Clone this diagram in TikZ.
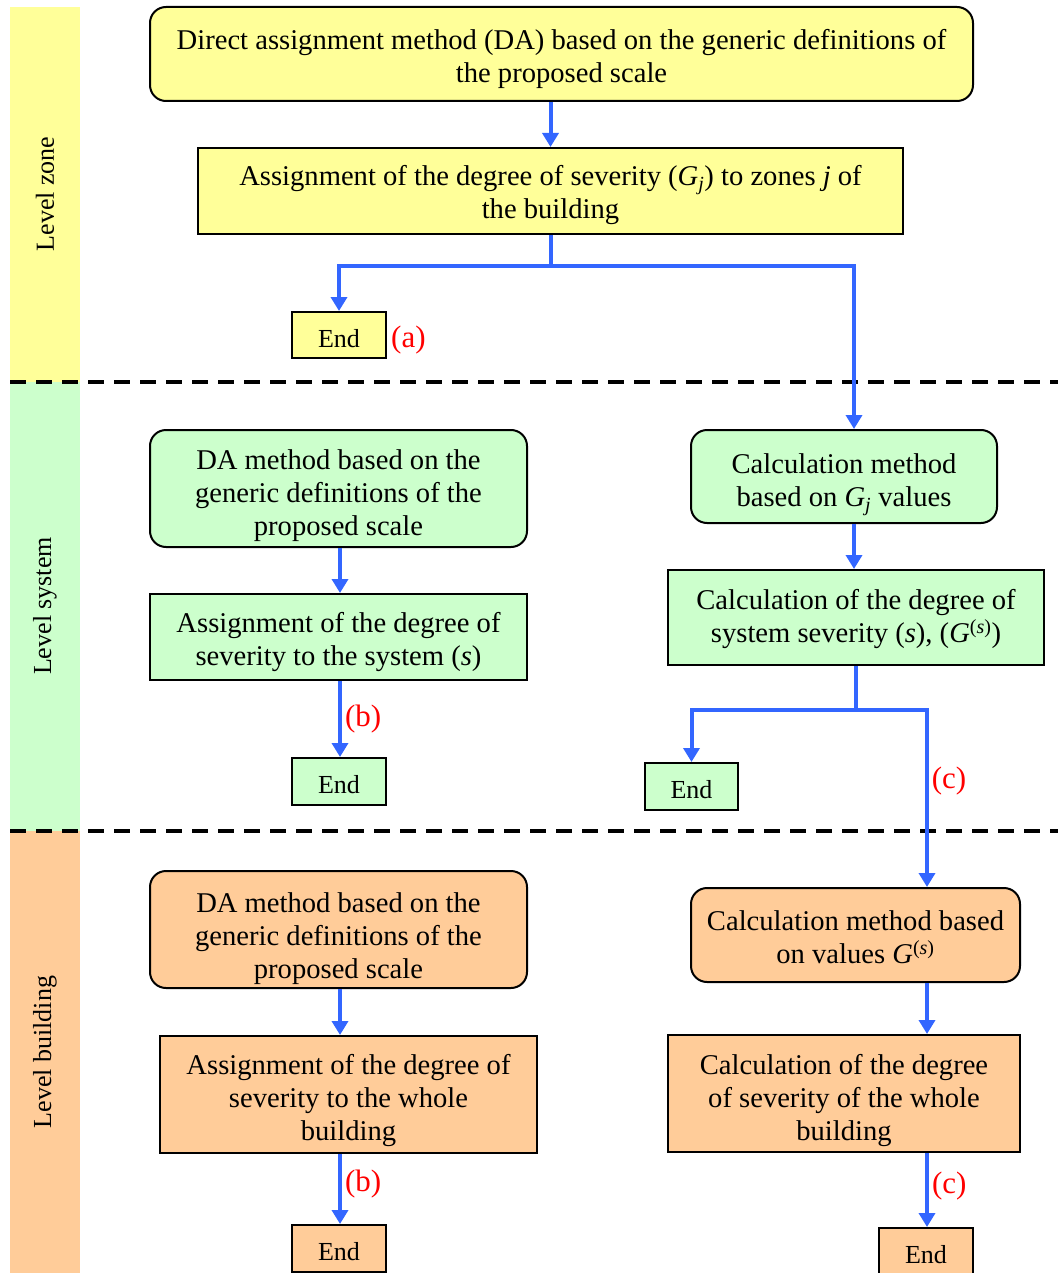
\documentclass[tikz,border=0pt]{standalone}
\usepackage{fontspec}
\setmainfont{Liberation Serif}
\usetikzlibrary{arrows.meta,calc}
\definecolor{cyel}{HTML}{FFFF99}
\definecolor{cgrn}{HTML}{CCFFCC}
\definecolor{corg}{HTML}{FFCC99}
\definecolor{cblue}{HTML}{3366FF}
\definecolor{cred}{HTML}{FF0000}
\begin{document}
\begin{tikzpicture}[x=1pt,y=-1pt,
  every node/.style={font=\fontsize{28.6}{33}\selectfont, inner sep=0pt, align=center},
  rbox/.style={draw=black, line width=2pt, rounded corners=16pt},
  sbox/.style={draw=black, line width=2pt},
  endbox/.style={draw=black, line width=2pt},
  tx/.style 2 args={label={[yshift=-#1pt]center:{#2}}},
  etx/.style={label={[yshift=-3.5pt, font=\fontsize{26}{30}\selectfont]center:End}},
  side/.style={rotate=90, font=\fontsize{26}{30}\selectfont},
  arr/.style={draw=cblue, line width=4pt, -{Triangle[length=14pt,width=16pt]}},
  lnk/.style={draw=cblue, line width=4pt},
  lab/.style={text=cred, font=\fontsize{31}{34}\selectfont},
  sep/.style={line width=4pt, dash pattern=on 16pt off 10pt}]
\useasboundingbox (0,0) rectangle (1058,1273);
% side bars
\fill[cyel] (10,7) rectangle (80,382);
\fill[cgrn] (10,382) rectangle (80,831);
\fill[corg] (10,831) rectangle (80,1273);
\node[side] (lz) at (45,194) {Level zone};
\node[side] (ls) at (45,606) {Level system};
\node[side] (lb) at (45,1052) {Level building};
% separators
\draw[sep] (10,382) -- (1058,382);
\draw[sep] (10,831) -- (1058,831);
% zone level
\node[rbox, fill=cyel, minimum width=823pt, minimum height=94pt,
  tx={5}{Direct assignment method (DA) based on the generic definitions of\\ the proposed scale}] (top) at (561.5,54) {};
\node[sbox, fill=cyel, minimum width=705pt, minimum height=86pt,
  tx={4}{Assignment of the degree of severity (\textit{G}\textsubscript{\textit{j}}) to zones \textit{j} of\\ the building}] (assign) at (550.5,191) {};
\node[endbox, fill=cyel, minimum width=94pt, minimum height=46pt, etx] (endA) at (339,335) {};
\node[lab, anchor=west] (la) at (391,340) {(a)};
% system level
\node[rbox, fill=cgrn, minimum width=377pt, minimum height=117pt,
  tx={7}{DA method based on the\\ generic definitions of the\\ proposed scale}] (da2) at (338.5,488.5) {};
\node[sbox, fill=cgrn, minimum width=377pt, minimum height=86pt,
  tx={5}{Assignment of the degree of\\ severity to the system (\textit{s})}] (as2) at (338.5,637) {};
\node[endbox, fill=cgrn, minimum width=94pt, minimum height=47pt, etx] (endB1) at (339,781.5) {};
\node[rbox, fill=cgrn, minimum width=306pt, minimum height=93pt,
  tx={8}{Calculation method\\ based on \textit{G}\textsubscript{\textit{j}} values}] (calc1) at (844,476.5) {};
\node[sbox, fill=cgrn, minimum width=376pt, minimum height=95pt,
  tx={1.5}{Calculation of the degree of\\ system severity (\textit{s}), (\textit{G}\textsuperscript{(\textit{s})})}] (calc2) at (856,617.5) {};
\node[endbox, fill=cgrn, minimum width=93pt, minimum height=47pt, etx] (endC1) at (691.5,786.5) {};
% building level
\node[rbox, fill=corg, minimum width=377pt, minimum height=117pt,
  tx={9}{DA method based on the\\ generic definitions of the\\ proposed scale}] (da3) at (338.5,929.5) {};
\node[sbox, fill=corg, minimum width=377pt, minimum height=117pt,
  tx={6}{Assignment of the degree of\\ severity to the whole\\ building}] (as3) at (348.5,1094.5) {};
\node[endbox, fill=corg, minimum width=94pt, minimum height=47pt, etx] (endB2) at (339,1248.5) {};
\node[rbox, fill=corg, minimum width=329pt, minimum height=94pt,
  tx={2}{Calculation method based\\ on values \textit{G}\textsuperscript{(\textit{s})}}] (calc3) at (855.5,935) {};
\node[sbox, fill=corg, minimum width=352pt, minimum height=117pt,
  tx={7}{Calculation of the degree\\ of severity of the whole\\ building}] (calc4) at (844,1093.5) {};
\node[endbox, fill=corg, minimum width=94pt, minimum height=47pt, etx] (endC2) at (926,1251.5) {};
% helper coordinates
\coordinate (j1) at ($(assign.south)+(0,31)$);
\coordinate (x1) at (854,0);
\coordinate (x0) at (340,0);
\coordinate (j2) at (856,710);
\coordinate (x2) at (927,0);
% connectors
\draw[arr] (assign.north |- top.south) -- (assign.north);
\draw[lnk] (assign.south) -- (j1);
\draw[arr] (j1) -| (endA.north);
\draw[arr] (j1) -| (calc1.north -| x1);
\draw[arr] (da2.south -| x0) -- (as2.north -| x0);
\draw[arr] (as2.south -| x0) -- node[lab, right=3pt, pos=0.5] (lb1) {(b)} (endB1.north -| x0);
\draw[arr] (calc1.south -| x1) -- (calc2.north -| x1);
\draw[lnk] (calc2.south -| j2) -- (j2);
\draw[arr] (j2) -| (endC1.north);
\draw[arr] (j2) -| (calc3.north -| x2);
\node[lab] (lc1) at (949,781) {(c)};
\draw[arr] (da3.south -| x0) -- (as3.north -| x0);
\draw[arr] (as3.south -| x0) -- node[lab, right=3pt, pos=0.43] (lb2) {(b)} (endB2.north -| x0);
\draw[arr] (calc3.south -| x2) -- (calc4.north -| x2);
\draw[arr] (calc4.south -| x2) -- node[lab, right=3pt, pos=0.45] (lc2) {(c)} (endC2.north -| x2);
\end{tikzpicture}
\end{document}
